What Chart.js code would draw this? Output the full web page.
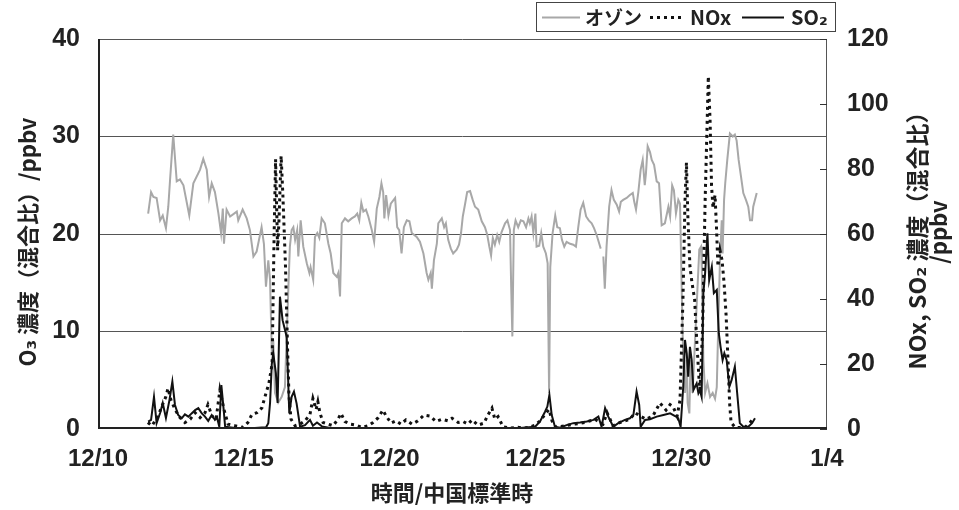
<!DOCTYPE html>
<html>
<head>
<meta charset="utf-8">
<script src="https://cdn.jsdelivr.net/npm/chart.js@4/dist/chart.umd.min.js"></script>
<style>
html, body { margin: 0; padding: 0; background: #fff; }
#wrap { width: 959px; height: 510px; }
</style>
</head>
<body>
<div id="wrap"><canvas id="c" width="959" height="510"></canvas></div>
<script>
// Time axis: days elapsed since 12/10 00:00 (China Standard Time)
const xTickLabels = ['12/10', '12/15', '12/20', '12/25', '12/30', '1/4'];
const leftTicks = [0, 10, 20, 30, 40];
const rightTicks = [0, 20, 40, 60, 80, 100, 120];

// Ozone mixing ratio (ppbv), left axis
const ozoneDay = [1.72,1.82,1.90,2.01,2.13,2.22,2.33,2.41,2.47,2.58,2.70,2.81,2.93,3.13,3.27,3.50,3.61,3.73,3.81,3.90,4.01,4.13,4.22,4.28,4.32,4.41,4.53,4.76,4.81,4.96,5.10,5.21,5.33,5.44,5.61,5.69,5.76,5.84,5.90,5.96,6.01,6.07,6.18,6.30,6.41,6.53,6.58,6.64,6.70,6.76,6.83,6.87,6.95,7.04,7.16,7.25,7.29,7.38,7.44,7.52,7.59,7.67,7.78,7.90,7.98,8.07,8.19,8.24,8.30,8.36,8.47,8.58,8.70,8.81,8.89,8.96,9.03,9.10,9.19,9.27,9.39,9.47,9.56,9.65,9.72,9.78,9.82,9.88,9.96,10.04,10.19,10.26,10.33,10.41,10.49,10.59,10.68,10.76,10.93,11.04,11.16,11.27,11.33,11.41,11.45,11.52,11.62,11.67,11.79,11.87,11.93,12.01,12.10,12.18,12.30,12.38,12.45,12.51,12.59,12.66,12.76,12.85,12.93,13.04,13.16,13.27,13.35,13.42,13.48,13.54,13.61,13.69,13.76,13.84,13.96,14.04,14.13,14.17,14.21,14.26,14.32,14.41,14.50,14.59,14.68,14.76,14.81,14.87,14.93,15.00,15.04,15.13,15.20,15.27,15.36,15.42,15.47,15.51,15.59,15.68,15.75,15.84,15.91,15.99,16.07,16.19,16.30,16.39,16.47,16.55,16.64,16.74,16.83,16.93,17.01,17.10,17.19,17.24,17.28,17.33,17.38,17.44,17.53,17.61,17.69,17.79,17.87,17.93,18.01,18.13,18.24,18.34,18.39,18.45,18.53,18.61,18.68,18.75,18.79,18.85,18.93,18.99,19.07,19.16,19.24,19.33,19.44,19.56,19.62,19.69,19.75,19.82,19.90,19.96,20.02,20.07,20.13,20.19,20.22,20.28,20.32,20.39,20.47,20.55,20.62,20.68,20.71,20.76,20.82,20.90,20.99,21.08,21.16,21.22,21.27,21.33,21.39,21.42,21.47,21.51,21.58,21.67,21.77,21.84,21.90,21.97,22.05,22.13,22.22,22.30,22.36,22.43,22.47,22.59];
const ozoneVal = [22.1,24.3,23.8,23.7,21.4,21.9,20.6,22.8,25.5,30.2,25.4,25.6,25.0,21.9,25.2,26.6,27.7,26.6,23.8,25.2,24.3,22.1,20.1,22.6,19.0,22.5,21.8,22.3,21.4,22.5,21.6,20.4,17.7,18.2,20.7,19.0,14.6,17.3,15.3,7.8,9.1,3.7,2.7,3.3,4.3,14.6,18.7,20.4,20.7,19.4,20.4,17.7,21.4,18.7,17.0,16.0,16.6,15.3,19.7,20.1,19.6,21.6,21.1,19.0,18.0,16.0,15.6,16.0,13.6,21.1,21.6,21.3,21.6,21.8,22.1,21.4,23.2,22.3,22.5,21.8,20.4,19.2,22.6,23.8,25.2,24.3,21.6,24.0,21.9,23.1,23.7,20.7,20.4,18.0,20.7,21.4,21.3,20.1,19.7,19.2,18.0,16.0,15.3,16.0,14.4,17.3,19.0,21.1,21.6,20.7,21.1,19.4,18.5,18.0,18.4,18.9,20.1,21.8,23.1,24.3,24.4,23.5,22.8,22.5,21.3,20.7,19.9,18.7,17.8,19.6,18.9,19.9,19.2,20.2,21.1,21.4,20.4,14.6,9.5,20.4,21.4,20.7,21.4,21.3,20.7,21.6,21.1,21.8,20.1,22.1,18.7,18.8,20.1,18.7,18.0,17.0,3.7,16.6,20.1,21.9,20.7,20.6,19.4,18.7,19.2,19.0,18.9,18.7,20.7,22.5,23.2,21.8,21.4,21.1,20.6,19.9,19.0,18.5,null,17.7,14.4,18.7,22.8,24.5,23.5,23.0,22.3,23.3,23.5,23.7,24.0,24.2,23.3,22.5,24.3,26.6,27.6,25.0,26.2,29.0,28.4,27.6,27.1,25.4,25.2,20.9,21.1,22.8,21.8,25.0,24.5,22.1,23.5,23.1,13.9,7.1,3.7,7.1,2.7,1.6,7.1,3.7,8.8,13.9,18.4,18.7,16.0,7.1,3.7,4.7,3.3,3.7,3.1,4.3,10.5,17.3,21.4,18.0,23.5,25.2,27.6,30.3,30.0,30.2,29.6,27.6,25.9,24.2,23.5,22.8,21.4,21.4,22.8,24.2];

// NOx mixing ratio (ppbv), right axis
const noxDay = [1.71,1.85,2.06,2.19,2.33,2.40,2.50,2.64,2.81,2.98,3.16,3.33,3.50,3.67,3.77,3.91,4.05,4.18,4.32,4.46,4.70,4.97,5.14,5.28,5.45,5.62,5.76,5.86,5.97,6.04,6.09,6.16,6.21,6.28,6.34,6.43,6.50,6.55,6.62,6.76,6.93,7.10,7.27,7.37,7.48,7.54,7.61,7.72,7.89,8.06,8.23,8.33,8.47,8.64,8.85,9.05,9.26,9.43,9.60,9.77,9.88,10.05,10.22,10.39,10.56,10.77,10.97,11.18,11.39,11.59,11.80,12.00,12.14,12.35,12.52,12.69,12.83,13.03,13.24,13.37,13.51,13.61,13.72,13.89,14.13,14.40,14.64,14.81,14.99,15.16,15.33,15.47,15.57,15.71,16.02,16.36,16.70,17.04,17.32,17.46,17.66,17.90,18.24,18.42,18.59,18.79,19.03,19.27,19.48,19.62,19.72,19.86,19.96,20.06,20.13,20.18,20.23,20.30,20.37,20.46,20.54,20.64,20.73,20.82,20.93,20.99,21.04,21.09,21.16,21.21,21.26,21.33,21.40,21.47,21.54,21.61,21.66,21.71,21.85,22.19,22.36,22.46];
const noxVal = [2.0,1.0,4.0,7.0,10.0,12.5,9.0,6.0,3.5,2.0,3.0,5.0,3.5,5.0,7.5,4.0,3.0,12.0,6.0,1.5,1.0,0.5,2.0,4.5,5.0,6.5,11.0,14.0,20,60,83,55,65,84,72,50,25,10,3,1.0,1.5,2.5,4.5,9.4,6.0,8.4,5.0,2.0,1.5,1.0,3.0,4.8,2.3,1.5,1.2,0.5,1.0,2.0,3.4,5.8,4.0,1.8,2.5,1.5,2.8,1.5,2.5,4.3,4.0,2.3,3.0,2.5,3.3,2.0,2.3,1.5,2.8,1.2,1.8,4.3,6.4,3.0,3.8,0.7,0.3,0.5,0.3,0.6,1.2,2.5,4.5,6.0,2.5,0.5,1.0,1.5,2.0,3.0,1.5,5.0,1.0,2.0,3.0,5.0,4.0,3.0,4.0,8.0,5.8,7.5,6.9,4.0,8.9,40,70,82,65,50,45,40,26,11,30,70,108.5,95,75,68,72,62,50,55,52,45,35,20,8,2,0.5,0.5,2.0,3.0];

// SO2 mixing ratio (ppbv), right axis
const so2Day = [1.72,1.82,1.92,2.01,2.13,2.22,2.33,2.45,2.55,2.64,2.75,2.87,2.98,3.10,3.21,3.33,3.44,3.56,3.67,3.78,3.90,4.01,4.08,4.16,4.23,4.30,4.36,4.70,5.04,5.38,5.62,5.76,5.84,5.90,5.96,6.01,6.10,6.16,6.24,6.33,6.47,6.56,6.64,6.72,6.81,6.93,7.10,7.27,7.37,7.51,7.68,7.96,8.30,8.98,9.67,10.36,11.04,11.73,12.41,13.10,13.79,14.47,14.99,15.16,15.33,15.41,15.48,15.56,15.67,15.84,16.07,16.30,16.53,16.76,16.99,17.16,17.27,17.39,17.50,17.67,17.84,18.07,18.24,18.36,18.47,18.56,18.61,18.76,18.93,19.16,19.39,19.62,19.79,19.90,19.98,20.07,20.13,20.19,20.24,20.30,20.36,20.42,20.53,20.59,20.64,20.70,20.76,20.82,20.90,20.96,21.05,21.12,21.22,21.29,21.35,21.42,21.48,21.56,21.65,21.73,21.84,21.92,22.01,22.13,22.30,22.43,22.53];
const so2Val = [2.3,2.8,9.9,1.8,4.9,8.0,3.4,8.9,14.6,7.4,4.3,3.3,4.5,3.8,4.8,5.8,6.4,4.8,3.8,2.5,4.3,2.8,3.5,0.7,13.5,6.9,0.7,0.3,0.2,0.3,0.5,0.5,1.8,8.0,20.0,23.3,17.2,8.0,40.7,33.5,28.4,4.8,9.9,11.5,7.9,0.7,1.2,2.8,1.0,2.0,0.8,0.3,0.2,0.2,0.3,0.2,0.3,0.2,0.2,0.3,0.2,0.3,0.7,2.3,5.3,6.9,10.5,4.3,0.7,0.4,1.2,1.8,2.0,2.3,2.8,3.8,0.7,6.4,3.8,0.7,1.8,2.8,3.3,4.3,11.5,7.4,0.7,2.8,3.0,3.8,4.3,4.8,4.0,3.3,0.7,13.0,27.4,23.3,16.1,25.3,21.2,12.0,14.0,11.0,12.0,9.9,41.8,47.9,60.2,45.8,49.9,41.8,42.8,29.4,25.3,21.2,23.3,21.2,13.0,15.1,19.2,11.0,1.8,0.7,0.7,1.8,3.3];

const toPoints = (days, vals) => days.map((d, i) => ({ x: d, y: vals[i] }));

const FONT_NUM = "'Liberation Sans', Arial, sans-serif";
const FONT_JP = "'Noto Sans CJK JP', 'DejaVu Sans', sans-serif";
const INK = '#222';

// Frame, inner ticks on the right axis, axis titles and the boxed legend
const decorations = {
  id: 'decorations',
  afterDraw(chart) {
    const { ctx, chartArea: a } = chart;
    const y1 = chart.scales.y1;
    ctx.save();
    // top and right frame lines
    ctx.strokeStyle = '#555';
    ctx.lineWidth = 1;
    ctx.beginPath();
    ctx.moveTo(a.left, a.top + 0.5);
    ctx.lineTo(a.right, a.top + 0.5);
    ctx.moveTo(a.right - 0.5, a.top);
    ctx.lineTo(a.right - 0.5, a.bottom);
    ctx.stroke();
    // left and bottom axis lines
    ctx.strokeStyle = INK;
    ctx.lineWidth = 2;
    ctx.beginPath();
    ctx.moveTo(a.left + 1, a.top);
    ctx.lineTo(a.left + 1, a.bottom);
    ctx.moveTo(a.left, a.bottom - 1);
    ctx.lineTo(a.right, a.bottom - 1);
    ctx.stroke();
    // right axis tick marks pointing inward
    ctx.strokeStyle = '#333';
    ctx.lineWidth = 1;
    ctx.beginPath();
    rightTicks.forEach(v => {
      const py = Math.round(y1.getPixelForValue(v)) + 0.5;
      ctx.moveTo(a.right - 7, py);
      ctx.lineTo(a.right, py);
    });
    ctx.stroke();

    // axis titles
    ctx.fillStyle = INK;
    ctx.textAlign = 'center';
    ctx.textBaseline = 'middle';
    const vText = (txt, x, y, font) => {
      ctx.save();
      ctx.translate(x, y);
      ctx.rotate(-Math.PI / 2);
      ctx.font = font;
      ctx.fillText(txt, 0, 0);
      ctx.restore();
    };
    vText('O₃ 濃度（混合比）/ppbv', 28, 242, 'bold 22px ' + FONT_JP);
    vText('NOx, SO₂ 濃度（混合比）', 917, 235, 'bold 23px ' + FONT_JP);
    vText('/ppbv', 939, 232, 'bold 22px ' + FONT_JP);
    ctx.font = 'bold 22px ' + FONT_JP;
    ctx.fillText('時間/中国標準時', 452, 493);

    // legend box
    const bx = 536, by = 2, bw = 299, bh = 29;
    ctx.fillStyle = '#fff';
    ctx.fillRect(bx, by, bw, bh);
    ctx.strokeStyle = '#444';
    ctx.lineWidth = 1;
    ctx.strokeRect(bx + 0.5, by + 0.5, bw, bh);
    const ly = by + bh / 2 + 1;
    const items = [
      { ds: chart.data.datasets[0], x0: 542, x1: 580, tx: 585, size: 19 },
      { ds: chart.data.datasets[1], x0: 650, x1: 684, tx: 690, size: 20 },
      { ds: chart.data.datasets[2], x0: 742, x1: 784, tx: 791, size: 20 }
    ];
    items.forEach(it => {
      ctx.save();
      ctx.strokeStyle = it.ds.borderColor;
      ctx.lineWidth = it.ds.borderWidth;
      ctx.setLineDash(it.ds.borderDash || []);
      ctx.beginPath();
      ctx.moveTo(it.x0, ly);
      ctx.lineTo(it.x1, ly);
      ctx.stroke();
      ctx.restore();
      ctx.fillStyle = INK;
      ctx.textAlign = 'left';
      ctx.textBaseline = 'middle';
      ctx.font = 'bold ' + it.size + 'px ' + FONT_JP;
      ctx.fillText(it.ds.label, it.tx, ly);
    });
    ctx.restore();
  }
};

new Chart(document.getElementById('c'), {
  type: 'line',
  data: {
    datasets: [
      {
        label: 'オゾン',
        data: toPoints(ozoneDay, ozoneVal),
        yAxisID: 'y',
        borderColor: '#a8a8a8',
        borderWidth: 2,
        spanGaps: false,
        order: 3
      },
      {
        label: 'NOx',
        data: toPoints(noxDay, noxVal),
        yAxisID: 'y1',
        borderColor: '#111',
        borderWidth: 3,
        borderDash: [3, 4],
        order: 2
      },
      {
        label: 'SO₂',
        data: toPoints(so2Day, so2Val),
        yAxisID: 'y1',
        borderColor: '#111',
        borderWidth: 2,
        order: 1
      }
    ]
  },
  options: {
    responsive: false,
    animation: false,
    devicePixelRatio: 1,
    layout: { padding: { top: 39, left: 0, right: 0, bottom: 0 } },
    elements: { point: { radius: 0 }, line: { tension: 0, borderCapStyle: 'butt' } },
    plugins: { legend: { display: false }, tooltip: { enabled: false } },
    scales: {
      x: {
        type: 'linear',
        min: 0,
        max: 25,
        afterBuildTicks: s => { s.ticks = xTickLabels.map((_, i) => ({ value: i * 5 })); },
        ticks: {
          padding: 16,
          maxRotation: 0,
          color: INK,
          font: { family: FONT_NUM, size: 24, weight: 'bold' },
          callback: (v) => xTickLabels[Math.round(v / 5)]
        },
        grid: { display: false, drawTicks: false },
        border: { display: false },
        afterFit: s => { s.height = 81; }
      },
      y: {
        position: 'left',
        min: 0,
        max: 40,
        afterBuildTicks: s => { s.ticks = leftTicks.map(v => ({ value: v })); },
        ticks: {
          padding: 18,
          color: INK,
          font: { family: FONT_NUM, size: 25, weight: 'bold' }
        },
        grid: {
          drawTicks: false,
          color: c => (c.tick.value === 0 || c.tick.value === 40) ? 'rgba(0,0,0,0)' : '#555',
          lineWidth: 1
        },
        border: { display: false },
        afterFit: s => { s.width = 98; }
      },
      y1: {
        position: 'right',
        min: 0,
        max: 120,
        afterBuildTicks: s => { s.ticks = rightTicks.map(v => ({ value: v })); },
        ticks: {
          padding: 20,
          color: INK,
          font: { family: FONT_NUM, size: 25, weight: 'bold' }
        },
        grid: { drawOnChartArea: false, drawTicks: false },
        border: { display: false },
        afterFit: s => { s.width = 132; }
      }
    }
  },
  plugins: [decorations]
});
</script>
</body>
</html>
